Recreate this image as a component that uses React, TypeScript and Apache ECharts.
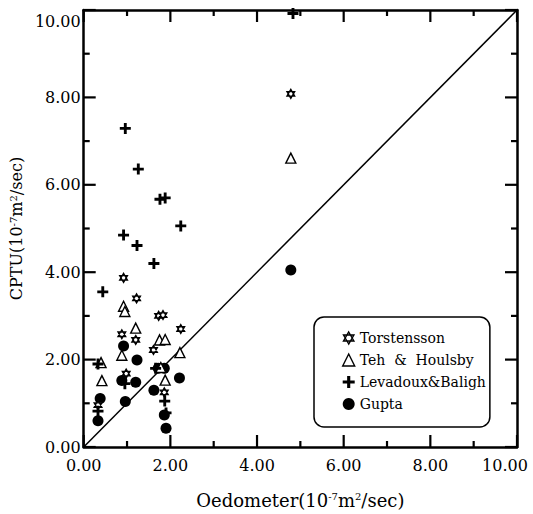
import React, { useEffect, useRef } from "react";
import * as echarts from "echarts";

// Axis ticks (both axes share 0..10, step 2); minor ticks halfway between
const tickValues: number[] = [0, 2, 4, 6, 8, 10];
const minorTickValues: number[] = [1, 3, 5, 7, 9];

// Series values [Oedometer, CPTU] (10^-7 m^2/sec)
const torstensson: [number, number][] = [
  [4.78, 8.08], [0.92, 3.87], [1.22, 3.4], [1.73, 3.0], [1.83, 3.02], [2.24, 2.7],
  [0.88, 2.58], [1.2, 2.45], [1.61, 2.22], [0.98, 1.68], [1.86, 1.25], [0.33, 0.96],
];
const tehHoulsby: [number, number][] = [
  [4.78, 6.61], [0.92, 3.22], [0.95, 3.1], [1.2, 2.72], [1.75, 2.45], [1.88, 2.46],
  [0.88, 2.1], [0.4, 1.93], [0.42, 1.52], [1.88, 1.53], [2.22, 2.16], [1.78, 1.82],
];
const levadouxBaligh: [number, number][] = [
  [4.83, 9.92], [0.96, 7.29], [1.26, 6.36], [1.76, 5.67], [1.88, 5.7], [2.24, 5.06],
  [0.92, 4.85], [1.23, 4.61], [1.62, 4.2], [0.44, 3.55], [0.33, 1.9], [0.95, 1.45],
  [0.33, 0.82], [1.87, 1.05], [1.9, 0.78], [1.66, 1.8],
];
const gupta: [number, number][] = [
  [4.78, 4.05], [0.92, 2.31], [1.23, 1.99], [0.88, 1.52], [1.2, 1.48], [0.38, 1.11],
  [0.33, 0.6], [0.96, 1.04], [1.62, 1.3], [1.72, 1.8], [1.86, 1.8], [2.21, 1.58],
  [1.86, 0.73], [1.9, 0.43],
];
const diagonal: [number, number][] = [[0, 0], [10, 10]];

const seriesNames = ["Torstensson", "Teh  &  Houlsby", "Levadoux&Baligh", "Gupta"];

const FONT = "DejaVu Serif";
const HEX = "path://M0,-10 L8.66,5 L-8.66,5 Z M0,10 L-8.66,-5 L8.66,-5 Z";
const PLUS = "path://M-1.3,-5 L1.3,-5 L1.3,-1.3 L5,-1.3 L5,1.3 L1.3,1.3 L1.3,5 L-1.3,5 L-1.3,1.3 L-5,1.3 L-5,-1.3 L-1.3,-1.3 Z";
const TICK_COLOR = "#000";

function makeAxis(position: string, extra: Record<string, unknown>) {
  return {
    type: "value",
    position,
    min: tickValues[0],
    max: tickValues[tickValues.length - 1],
    interval: tickValues[1] - tickValues[0],
    axisLine: { show: true, onZero: false, lineStyle: { color: "#000", width: 2.5 } },
    axisTick: { show: false },
    splitLine: { show: false },
    ...extra,
  };
}

export default function App() {
  const ref = useRef<HTMLDivElement>(null);
  useEffect(() => {
    document.body.style.margin = "0";
    if (!ref.current) return;
    const chart = echarts.init(ref.current, undefined, { renderer: "svg" });
    const lo = tickValues[0];
    const maxV = tickValues[tickValues.length - 1];
    const sup = { fontSize: 10, lineHeight: 10, verticalAlign: "top" as const, fontFamily: FONT, color: "#000" };
    const hollow = { color: "#fff", borderColor: "#000", borderWidth: 1.4, opacity: 1 };

    // tick marks on all four sides: [value, side(0 bottom,1 top,2 left,3 right), major?]
    const tickData: number[][] = [];
    for (let side = 0; side < 4; side++) {
      tickValues.forEach((v) => tickData.push([v, side, 1]));
      minorTickValues.forEach((v) => tickData.push([v, side, 0]));
    }

    chart.setOption({
      animation: false,
      grid: { left: 81, right: 16, top: 10, bottom: 67 },
      xAxis: [
        makeAxis("bottom", {
          name: "Oedometer(10{sup|-7}m{sup|2}/sec)",
          nameLocation: "middle",
          nameGap: 44,
          nameTextStyle: { fontFamily: FONT, fontSize: 18, color: "#000", rich: { sup } },
          axisLabel: {
            show: true,
            fontFamily: FONT,
            fontSize: 16,
            color: "#000",
            margin: 10,
            formatter: (v: number) => (v === maxV ? "{last|" + v.toFixed(2) + "}" : v.toFixed(2)),
            rich: { last: { fontFamily: FONT, fontSize: 16, color: "#000", padding: [0, 24, 0, 0] } },
          },
        }),
        makeAxis("top", { axisLabel: { show: false } }),
      ],
      yAxis: [
        makeAxis("left", {
          name: "CPTU(10{sup|-7}m{sup|2}/sec)",
          nameLocation: "middle",
          nameGap: 53,
          nameTextStyle: { fontFamily: FONT, fontSize: 16, color: "#000", rich: { sup } },
          axisLabel: {
            show: true,
            fontFamily: FONT,
            fontSize: 16,
            color: "#000",
            margin: 3,
            formatter: (v: number) => (v === maxV ? "{last|" + v.toFixed(2) + "}" : v.toFixed(2)),
            rich: { last: { fontFamily: FONT, fontSize: 16, color: "#000", padding: [22, 0, 0, 0] } },
          },
        }),
        makeAxis("right", { axisLabel: { show: false } }),
      ],
      legend: {
        orient: "vertical",
        left: 314,
        top: 317,
        padding: [14, 4, 16, 28],
        itemGap: 8,
        itemWidth: 12,
        itemHeight: 12,
        borderColor: "#000",
        borderWidth: 1.5,
        borderRadius: 10,
        backgroundColor: "#fff",
        textStyle: { fontFamily: FONT, fontSize: 14, color: "#000" },
        data: [
          { name: seriesNames[0], icon: HEX, itemStyle: hollow },
          { name: seriesNames[1], icon: "triangle", itemStyle: hollow },
          { name: seriesNames[2], icon: PLUS, itemStyle: { color: "#000", borderWidth: 0, opacity: 1 } },
          { name: seriesNames[3], icon: "circle", itemStyle: { color: "#000", borderWidth: 0, opacity: 1 } },
        ],
      },
      series: [
        {
          type: "line",
          data: diagonal,
          showSymbol: false,
          silent: true,
          lineStyle: { color: "#000", width: 1.5 },
          z: 1,
        },
        {
          type: "custom",
          coordinateSystem: "cartesian2d",
          xAxisIndex: 0,
          yAxisIndex: 0,
          silent: true,
          clip: false,
          z: 10,
          data: tickData,
          renderItem: function (_params: any, api: any) {
            const v = Number(api.value(0));
            const side = Number(api.value(1));
            const len = Number(api.value(2)) > 0 ? 12 : 6;
            let p: number[];
            let q: number[];
            if (side === 0) {
              p = api.coord([v, lo]);
              q = [p[0], p[1] - len];
            } else if (side === 1) {
              p = api.coord([v, maxV]);
              q = [p[0], p[1] + len];
            } else if (side === 2) {
              p = api.coord([lo, v]);
              q = [p[0] + len, p[1]];
            } else {
              p = api.coord([maxV, v]);
              q = [p[0] - len, p[1]];
            }
            return {
              type: "line",
              shape: { x1: p[0], y1: p[1], x2: q[0], y2: q[1] },
              style: { stroke: TICK_COLOR, lineWidth: 2.2, fill: null },
            };
          },
        },
        {
          name: seriesNames[3],
          type: "scatter",
          data: gupta,
          symbol: "circle",
          symbolSize: 11,
          itemStyle: { color: "#000", opacity: 1 },
          z: 2,
        },
        {
          name: seriesNames[1],
          type: "scatter",
          data: tehHoulsby,
          symbol: "triangle",
          symbolSize: 10,
          itemStyle: hollow,
          z: 3,
        },
        {
          name: seriesNames[0],
          type: "scatter",
          data: torstensson,
          symbol: HEX,
          symbolKeepAspect: true,
          symbolSize: 9,
          itemStyle: { color: "#fff", borderColor: "#000", borderWidth: 1.3, opacity: 1 },
          z: 4,
        },
        {
          name: seriesNames[2],
          type: "scatter",
          data: levadouxBaligh,
          symbol: PLUS,
          symbolSize: 11,
          itemStyle: { color: "#000", opacity: 1 },
          z: 5,
        },
      ],
    });
    return () => chart.dispose();
  }, []);
  return <div ref={ref} style={{ width: 533, height: 514 }} />;
}
